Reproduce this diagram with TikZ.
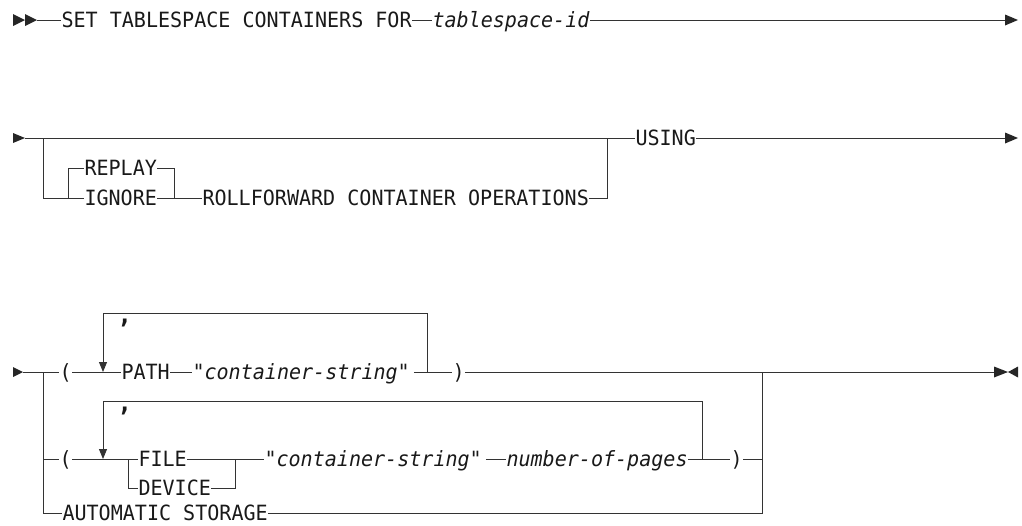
\documentclass[tikz,border=0pt]{standalone}
\usepackage{fontspec}
\newfontfamily\railfont[FakeStretch=0.955]{DejaVu Sans Mono}
\usepackage{tikz}
\usetikzlibrary{arrows.meta}

\begin{document}
\begin{tikzpicture}[
    x=1pt, y=-1pt,
    rail/.style={draw=black!80, line width=1pt},
    kw/.style={font=\railfont\fontsize{21}{25}\selectfont, text=black!90, inner xsep=0.5pt, inner ysep=0pt, outer sep=0pt, text height=15.3pt, text depth=0pt, anchor=west},
    var/.style={kw, font=\railfont\fontsize{21}{25}\selectfont\itshape},
    sep/.style={kw, font=\railfont\fontsize{25}{28}\bfseries},
    back/.style={rail, -{Triangle[length=10pt,width=8pt]}},
    tipfill/.style={fill=black!85}
]
\useasboundingbox (0,0) rectangle (1022,525);

% First line
\fill[tipfill] (13,14) -- (25,20) -- (13,26) -- cycle (25,14) -- (37,20) -- (25,26) -- cycle;
\coordinate (r1s) at (37,20);
\node[kw] (set) at (61,20) {SET TABLESPACE CONTAINERS FOR};
\node[var] (tsid) at (432,20) {tablespace-id};
\coordinate (r1e) at (1005,20);
\fill[tipfill] (1005,14.5) -- (1018,20) -- (1005,25.5) -- cycle;

\draw[rail] (r1s) -- (set);
\draw[rail] (set) -- (tsid);
\draw[rail] (tsid) -- (r1e);

% Second line
\fill[tipfill] (13,133) -- (25,138) -- (13,143) -- cycle;
\coordinate (r2s) at (25,138);
\coordinate (j2a) at (43,138);
\coordinate (j2b) at (607,138);
\node[kw] (using) at (635,138) {USING};
\coordinate (r2e) at (1005,138);
\fill[tipfill] (1005,132.5) -- (1018,138) -- (1005,143.5) -- cycle;

\node[kw] (replay) at (84,168) {REPLAY};
\node[kw] (ignore) at (84,198) {IGNORE};
\node[kw] (roll) at (202,198) {ROLLFORWARD CONTAINER OPERATIONS};
\coordinate (rb1) at (68,198);
\coordinate (rb2) at (174,198);

\draw[rail] (r2s) -- (using);
\draw[rail] (using) -- (r2e);
\draw[rail] (j2a) |- (ignore);
\draw[rail] (rb1) |- (replay);
\draw[rail] (replay) -| (rb2);
\draw[rail] (ignore) -- (roll);
\draw[rail] (roll) -| (j2b);

% Third line
\fill[tipfill] (13,367) -- (23,372) -- (13,377) -- cycle;
\coordinate (r3s) at (23,372);
\coordinate (j3a) at (43,372);
\coordinate (j3b) at (762,372);
\node[kw] (lp1) at (59,372) {(};
\node[kw] (path) at (121,372) {PATH};
\node[var] (cs1) at (192,372) {"container-string"\,};
\node[kw] (rp1) at (452,372) {)};
\coordinate (r3e) at (994,372);
\fill[tipfill] (994,366.5) -- (1008,372) -- (994,377.5) -- cycle (1018,366.5) -- (1008,372) -- (1018,377.5) -- cycle;

% PATH repeat
\coordinate (l1l) at (103,372);
\coordinate (l1r) at (427,372);
\coordinate (l1t) at (103,313);
\node[sep] (c1) at (117,316) {,};

% FILE / DEVICE
\node[kw] (lp2) at (59,459) {(};
\coordinate (fb1) at (128,459);
\node[kw] (file) at (138,459) {FILE};
\node[kw] (device) at (138,488) {DEVICE};
\coordinate (fb2) at (235,459);
\node[var] (cs2) at (264,459) {"container-string"\,};
\node[var] (nop) at (506,459) {number-of-pages};
\node[kw] (rp2) at (730,459) {)};

% FILE repeat
\coordinate (l2l) at (103,459);
\coordinate (l2r) at (702,459);
\coordinate (l2t) at (103,401);
\node[sep] (c2) at (117,404) {,};

\node[kw] (auto) at (62,513) {AUTOMATIC STORAGE};

\draw[rail] (r3s) -- (lp1);
\draw[rail] (lp1) -- (path);
\draw[rail] (path) -- (cs1);
\draw[rail] (cs1) -- (rp1);
\draw[rail] (rp1) -- (r3e);
\draw[rail] (j3a) |- (lp2);
\draw[rail] (j3a) |- (auto);
\draw[rail] (lp2) -- (file);
\draw[rail] (fb1) |- (device);
\draw[rail] (device) -| (fb2);
\draw[rail] (file) -- (cs2);
\draw[rail] (cs2) -- (nop);
\draw[rail] (nop) -- (rp2);
\draw[rail] (rp2) -- (rp2 -| j3b);
\draw[rail] (auto) -| (j3b);
\draw[back] (l1r) |- (l1t) -- (l1l);
\draw[back] (l2r) |- (l2t) -- (l2l);

\end{tikzpicture}
\end{document}
